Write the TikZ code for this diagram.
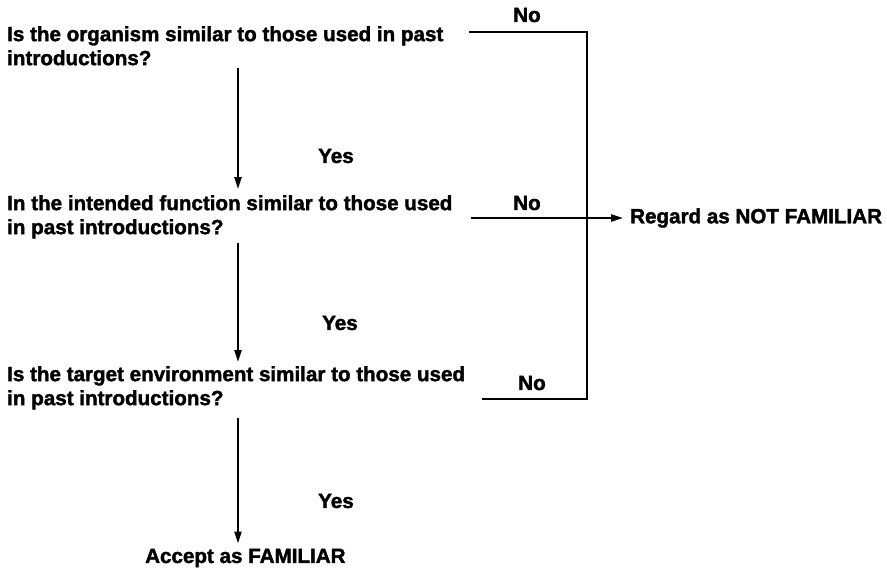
\documentclass[tikz,border=0pt]{standalone}
\usepackage{fontspec}
\setmainfont{Liberation Sans}[BoldFeatures={FakeBold=1.8}]
\usetikzlibrary{arrows.meta}
\begin{document}
\begin{tikzpicture}[x=1pt,y=-1pt,
  txt/.style={inner sep=0pt,font=\bfseries\fontsize{20.6}{24}\selectfont},
  q/.style={txt,anchor=north west,align=left},
  ln/.style={line width=2.2pt,line join=miter},
  arr/.style={line width=2.2pt,-{Triangle[length=12pt,width=7pt]}}]
\useasboundingbox (0,0) rectangle (887,574);
% decision questions
\node[q] (q1) at (7,26) {Is the organism similar to those used in past\\introductions?};
\node[q] (q2) at (7,195) {In the intended function similar to those used\\in past introductions?};
\node[q] (q3) at (7,366) {Is the target environment similar to those used\\in past introductions?};
% outcomes
\node[txt,anchor=west] (acc) at (145,558) {Accept as FAMILIAR};
\node[txt,anchor=west] (rej) at (630,218) {Regard as NOT FAMILIAR};
% branch points
\coordinate (a1) at (238,68);
\coordinate (a2) at (238,243);
\coordinate (a3) at (238,418);
\coordinate (n1s) at (469,32);
\coordinate (n1c) at (587,32);
\coordinate (n2s) at (471,218);
\coordinate (n3s) at (482,399);
\coordinate (n3c) at (587,399);
% "Yes" paths
\draw[arr,shorten >=6pt] (a1) -- (a1 |- q2.north);
\draw[arr,shorten >=4pt] (a2) -- (a2 |- q3.north);
\draw[arr,shorten >=5pt] (a3) -- (a3 |- acc.north);
\node[txt,anchor=west] (y1) at (318,156) {Yes};
\node[txt,anchor=west] (y2) at (322,323) {Yes};
\node[txt,anchor=west] (y3) at (318,501) {Yes};
% "No" paths
\draw[ln] (n1s) -- (n1c) -- (n3c) -- (n3s);
\draw[arr] (n2s) -- ([xshift=-7pt]rej.west);
\node[txt] (no1) at (527,15) {No};
\node[txt] (no2) at (527,203) {No};
\node[txt] (no3) at (532,383) {No};
\end{tikzpicture}
\end{document}
